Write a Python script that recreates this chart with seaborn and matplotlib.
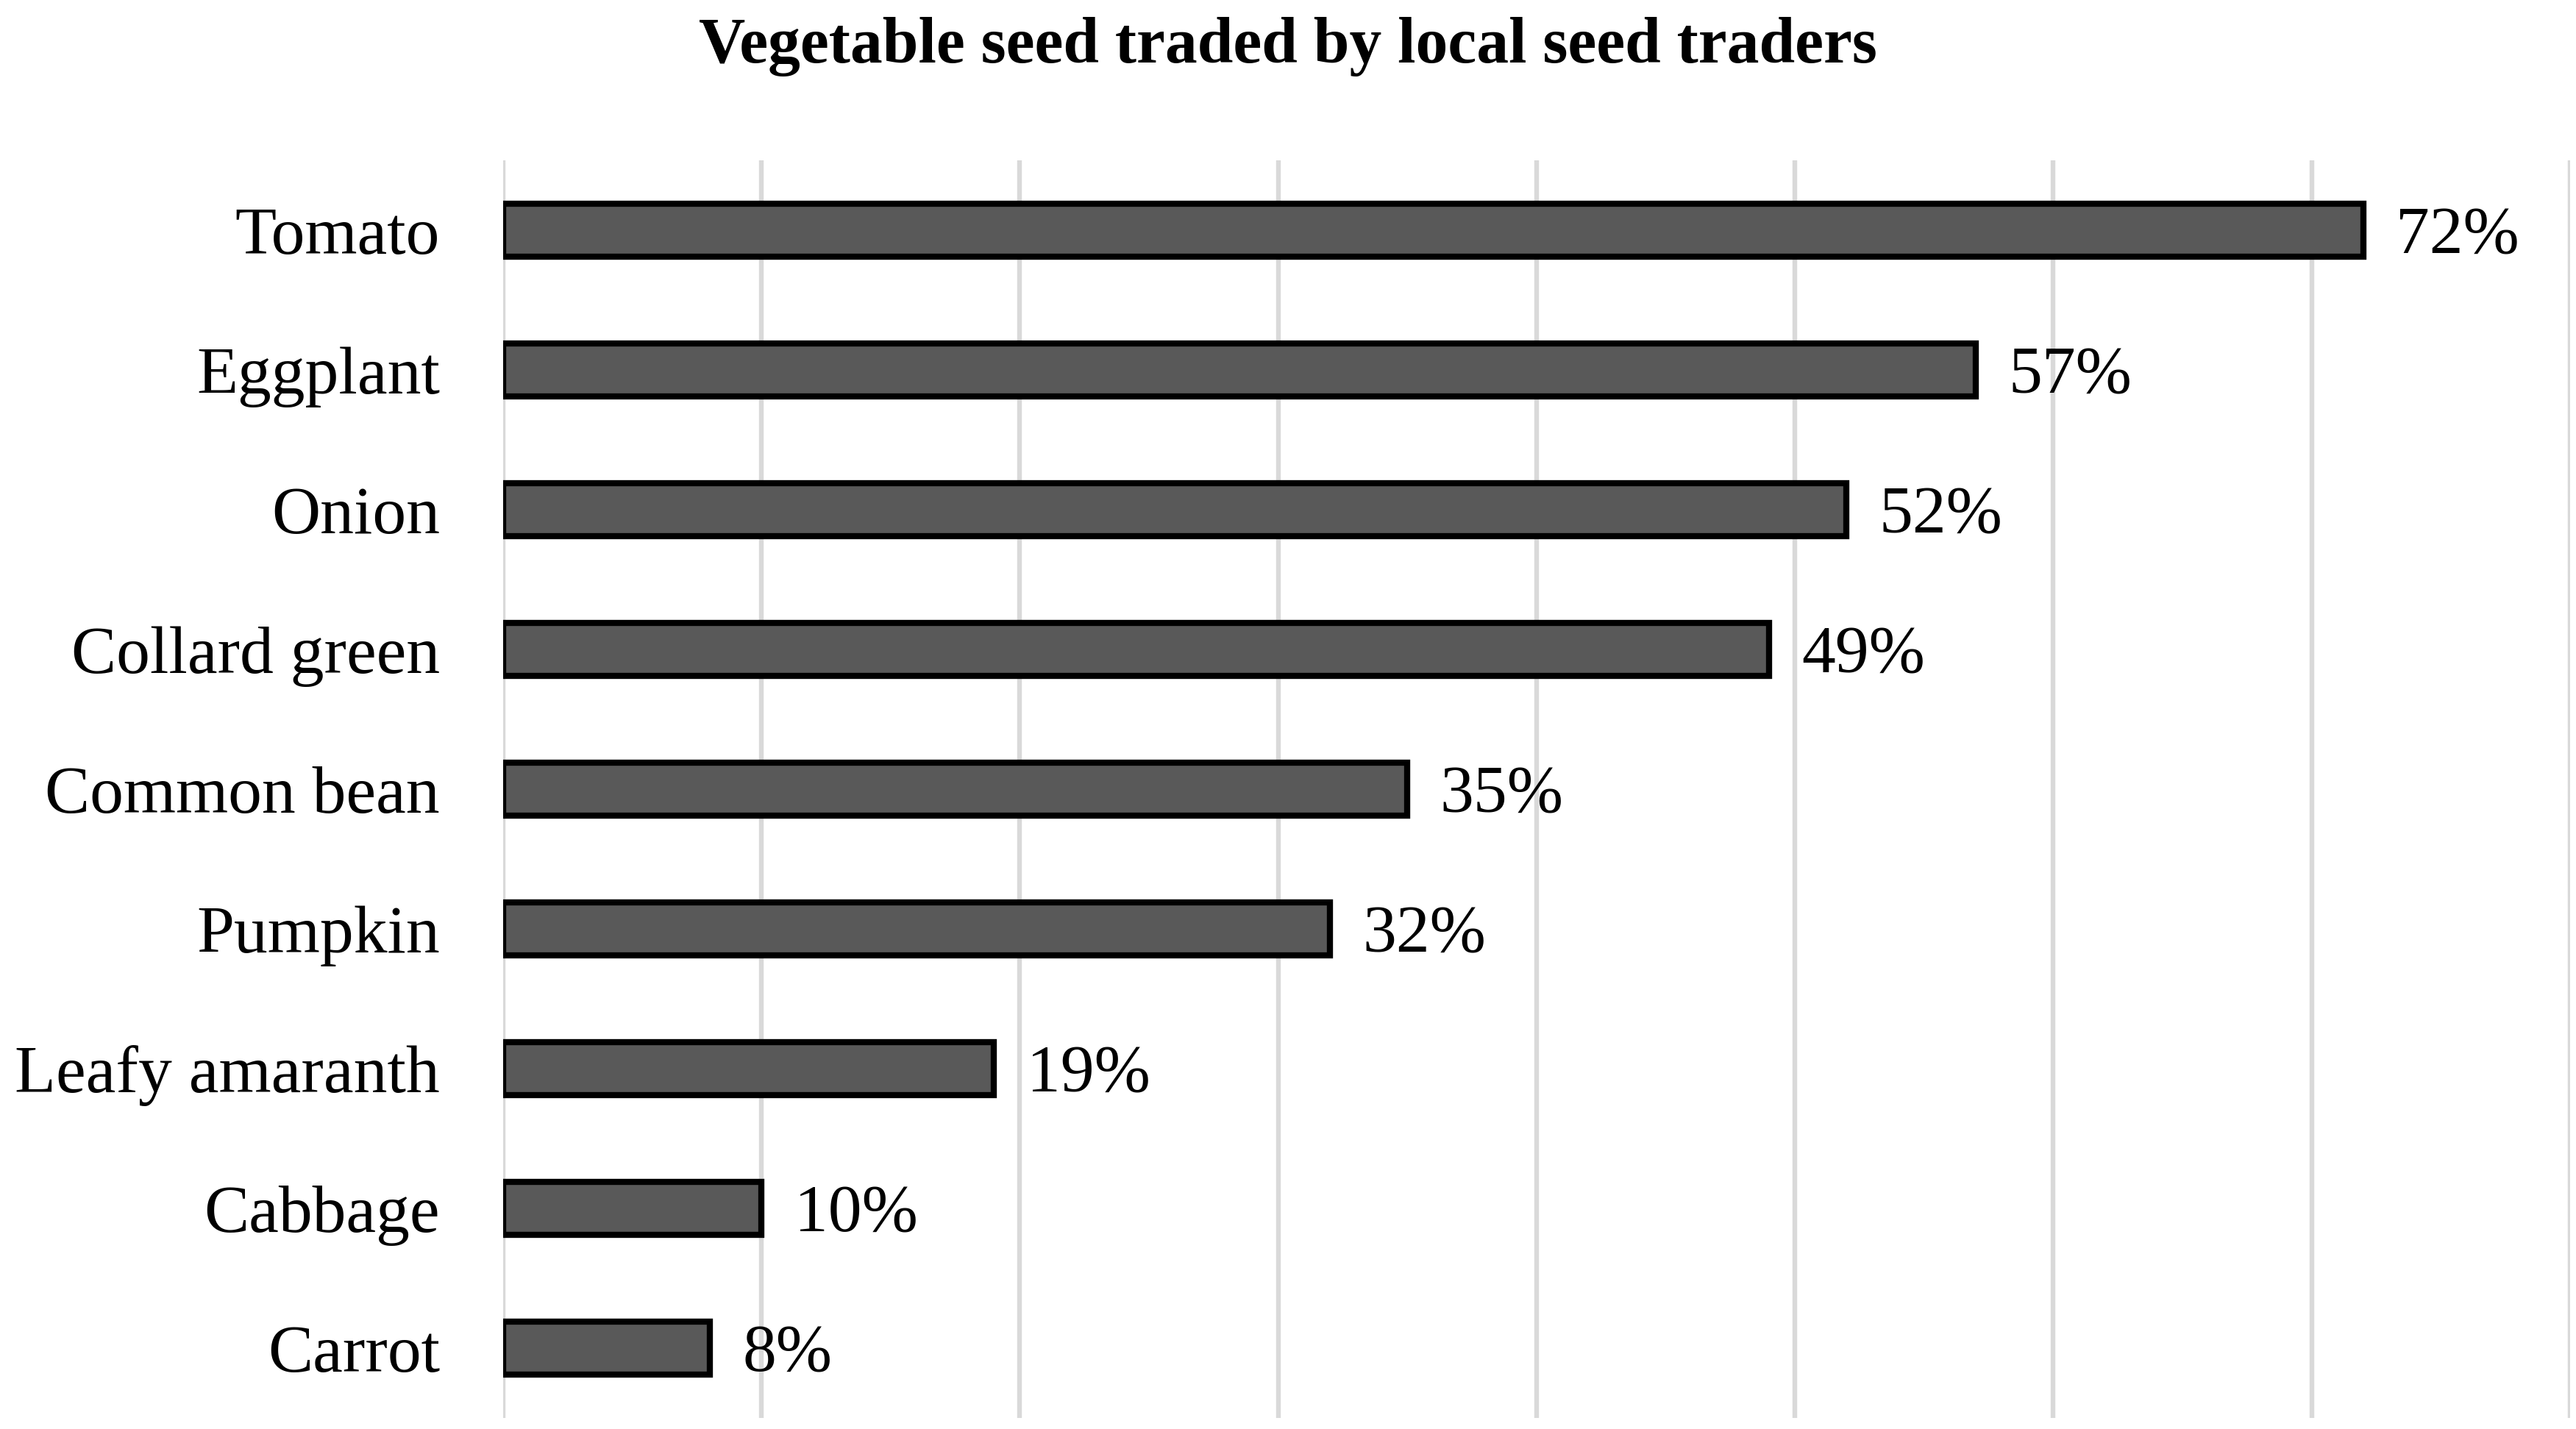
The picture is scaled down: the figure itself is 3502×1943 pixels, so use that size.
import pandas as pd
import seaborn as sns
import matplotlib.pyplot as plt

# Share of local seed traders selling each vegetable seed (%)
crops = ["Tomato", "Eggplant", "Onion", "Collard green", "Common bean",
         "Pumpkin", "Leafy amaranth", "Cabbage", "Carrot"]
shares = [72, 57, 52, 49, 35, 32, 19, 10, 8]
x_ticks = [0, 10, 20, 30, 40, 50, 60, 70, 80]

df = pd.DataFrame({"crop": crops, "share": shares})

sns.set_theme(style="white")
plt.rcParams['font.family'] = ['Liberation Serif', 'DejaVu Serif']
plt.rcParams['text.color'] = 'black'
plt.rcParams['ytick.color'] = 'black'
plt.rcParams['ytick.labelcolor'] = 'black'

fig = plt.figure(figsize=(17.51, 9.715), dpi=200)
ax = fig.add_axes([0.1953, 0.0077, 0.8024, 0.8801])

sns.barplot(data=df, x="share", y="crop", orient="h", color="#595959",
            saturation=1, width=0.38, edgecolor="black", linewidth=3,
            ax=ax, zorder=3)

ax.set_xlim(0, 80)
ax.set_ylim(8.5, -0.5)
ax.set_xticks(x_ticks)
ax.xaxis.grid(True, color="#d9d9d9", linewidth=2.3, zorder=0)
ax.set_axisbelow(True)
ax.tick_params(axis="x", labelbottom=False, length=0)
ax.tick_params(axis="y", length=0, pad=31, labelsize=33, labelcolor="black")
ax.set_xlabel("")
ax.set_ylabel("")
for s in ax.spines.values():
    s.set_visible(False)

for i, v in enumerate(shares):
    ax.annotate(f"{v}%", xy=(v, i), xytext=(16, 0), textcoords="offset points",
                va="center_baseline", ha="left", fontsize=33, color="black")

fig.suptitle("Vegetable seed traded by local seed traders", y=0.988,
             fontsize=31.5, fontweight="bold", color="black")

fig.savefig("out.png", dpi=200)
